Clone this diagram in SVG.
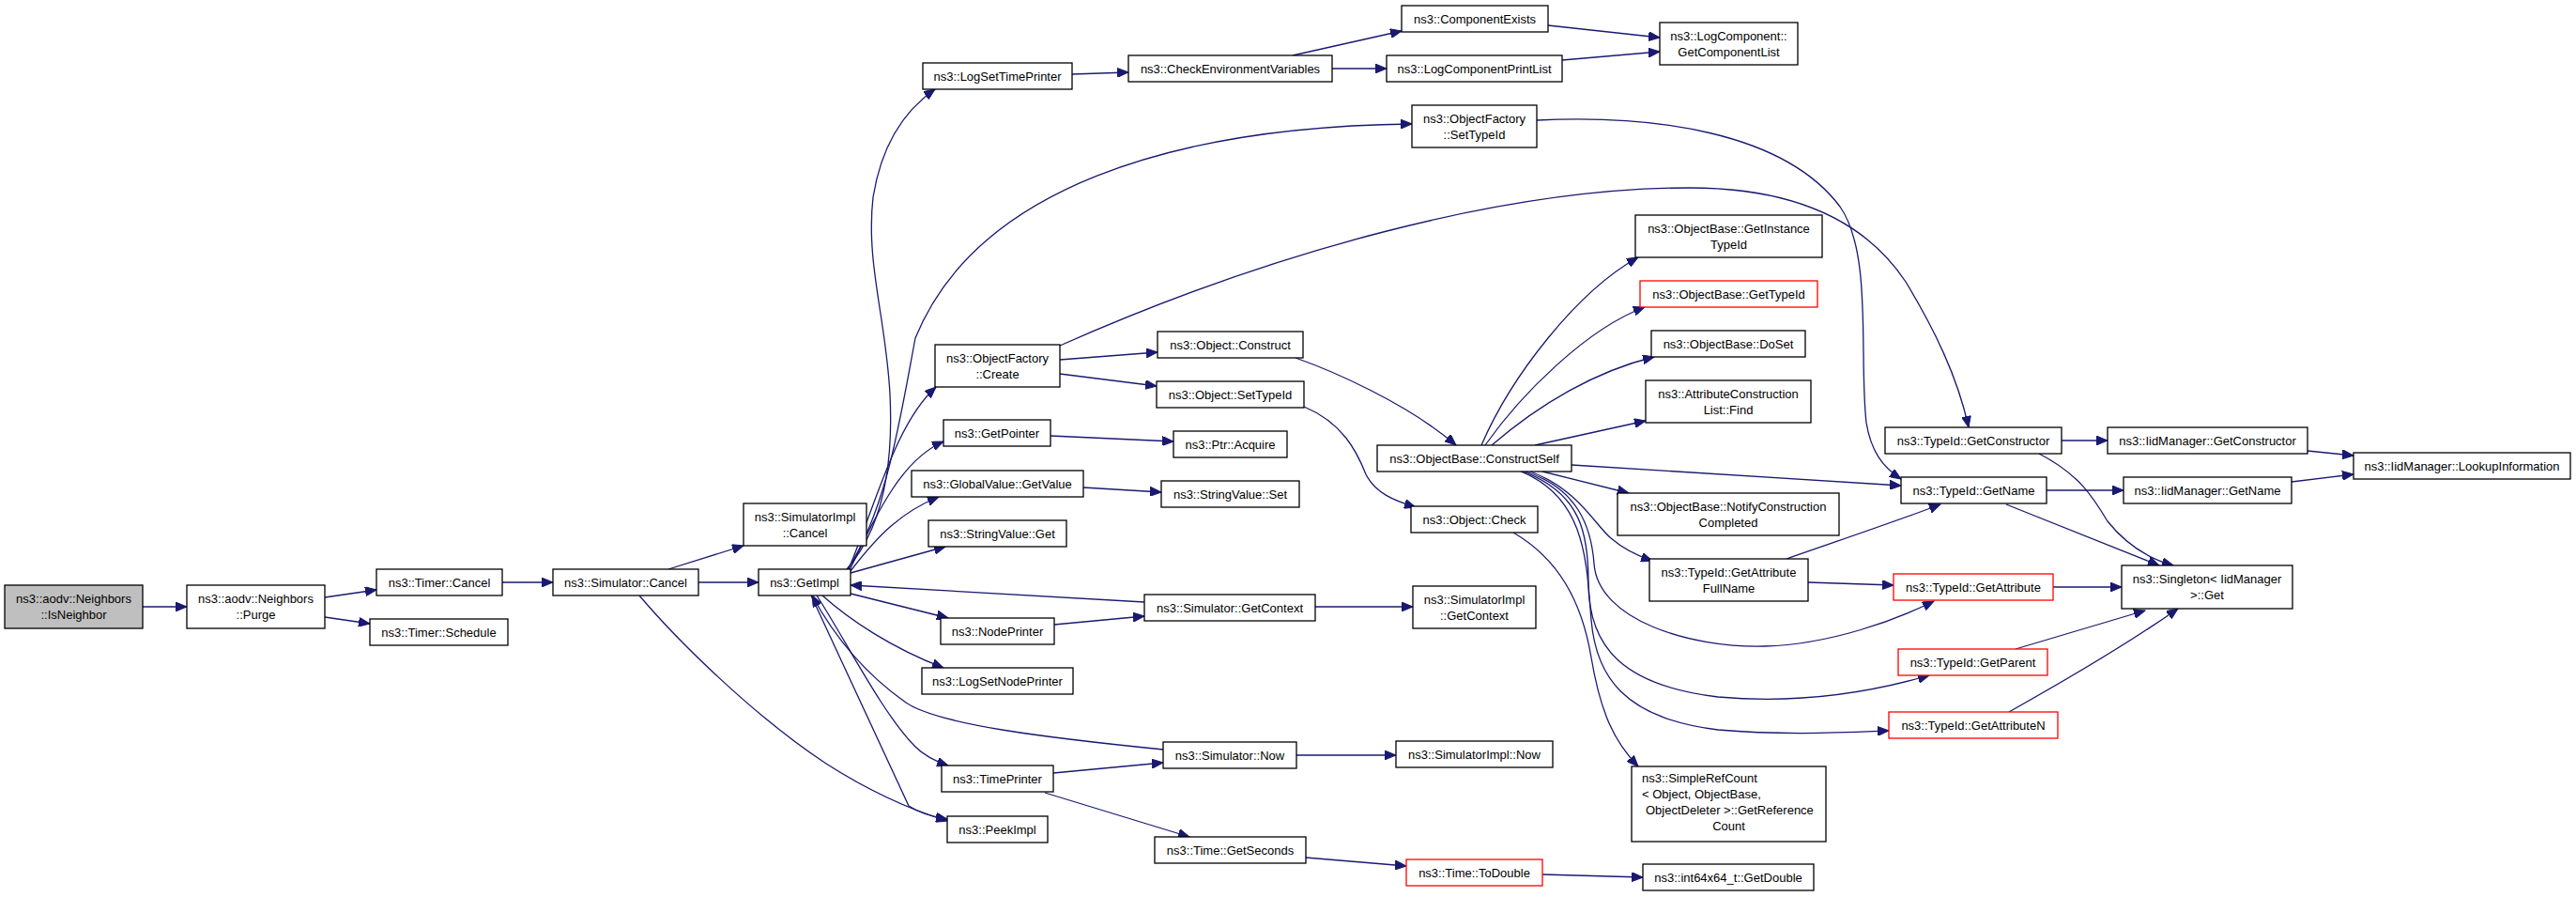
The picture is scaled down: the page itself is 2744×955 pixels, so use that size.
<svg xmlns="http://www.w3.org/2000/svg" width="2744" height="955" viewBox="0 0 2744 955">
<defs>
<marker id="ah" markerUnits="userSpaceOnUse" markerWidth="13" markerHeight="10" refX="12" refY="5" orient="auto">
<path d="M0,0 L12,5 L0,10 z" fill="#191970" stroke="#191970" stroke-width="1"/>
</marker>
<style>
.n rect{fill:#ffffff;stroke:#000000;stroke-width:1.3}
.r rect{fill:#ffffff;stroke:#ff0000;stroke-width:1.3}
.g rect{fill:#bfbfbf;stroke:#000000;stroke-width:1.3}
text{font-family:"Liberation Sans",Arial,sans-serif;font-size:13px;fill:#000000;text-anchor:middle}
text.l{text-anchor:start}
#edges path{fill:none;stroke:#191970;stroke-width:1.3;marker-end:url(#ah)}
</style>
</defs>
<rect x="0" y="0" width="2744" height="955" fill="#ffffff"/>
<g id="edges">
<path d="M152,646 L199,646"/>
<path d="M346,636 L401,628"/>
<path d="M346,657 L394,664"/>
<path d="M535,620 L589,620"/>
<path d="M712,606 L792,581"/>
<path d="M744,620 L808,620"/>
<path d="M681,634 C720,680 800,760 880,813 C930,845 970,862 1009,874"/>
<path d="M864,634 L968,858 C980,866 995,870 1009,872"/>
<path d="M1239,798 C1120,786 1000,772 965,748 C925,720 890,680 865,634"/>
<path d="M870,634 C900,680 940,760 975,795 C985,805 995,810 1010,815"/>
<path d="M876,634 C905,660 950,690 1005,711"/>
<path d="M906,632 L1010,658"/>
<path d="M906,610 L1007,582"/>
<path d="M1219,641 L906,623"/>
<path d="M906,608 C935,570 960,545 1000,529"/>
<path d="M905,607 C935,545 960,490 1005,470"/>
<path d="M904,606 C935,530 955,450 997,412"/>
<path d="M903,606 C945,540 958,450 975,360 C1040,200 1250,135 1504,132"/>
<path d="M902,606 C938,565 952,500 948,420 C944,340 922,280 930,210 C938,160 960,120 996,95"/>
<path d="M1142,79 L1202,77"/>
<path d="M1377,59 L1493,33"/>
<path d="M1419,73 L1477,73"/>
<path d="M1649,27 L1768,40"/>
<path d="M1664,64 L1768,55"/>
<path d="M1637,128 C1760,122 1900,140 1960,220 C1995,270 1980,380 1988,450 C1993,480 2005,497 2025,510"/>
<path d="M1129,368 C1350,270 1600,200 1800,200 C1920,200 1990,240 2030,300 C2060,350 2085,400 2097,455"/>
<path d="M1129,383 L1233,375"/>
<path d="M1129,398 L1232,411"/>
<path d="M1380,381 C1420,395 1500,430 1551,474"/>
<path d="M1389,433 C1430,450 1445,480 1455,505 C1465,525 1485,533 1508,540"/>
<path d="M1119,464 L1250,470"/>
<path d="M1154,519 L1237,524"/>
<path d="M1123,665 L1219,656"/>
<path d="M1401,646 L1505,646"/>
<path d="M1381,804 L1487,804"/>
<path d="M1122,823 L1239,812"/>
<path d="M1113,844 L1267,891"/>
<path d="M1391,913 L1498,922"/>
<path d="M1643,931 L1750,934"/>
<path d="M1578,474 C1610,400 1680,310 1745,274"/>
<path d="M1582,474 C1620,420 1690,350 1752,327"/>
<path d="M1589,474 C1640,430 1700,395 1762,380"/>
<path d="M1635,474 L1753,448"/>
<path d="M1674,495 L2025,517"/>
<path d="M1643,502 L1735,525"/>
<path d="M1630,502 C1680,520 1700,560 1716,573 C1730,585 1745,592 1760,597"/>
<path d="M1625,502 C1680,520 1695,560 1698,600 C1702,660 1800,690 1880,688 C1950,686 2020,660 2060,640"/>
<path d="M1622,502 C1685,525 1692,570 1692,620 C1692,690 1730,730 1830,742 C1920,750 2000,735 2055,719"/>
<path d="M1620,502 C1690,530 1690,600 1695,660 C1700,720 1730,765 1830,777 C1900,783 1960,780 2012,778"/>
<path d="M1612,567 C1660,595 1685,640 1695,700 C1705,760 1720,790 1745,816"/>
<path d="M1903,595 C1960,575 2020,555 2067,537"/>
<path d="M1926,620 L2017,623"/>
<path d="M2196,469 L2245,469"/>
<path d="M2172,483 C2215,505 2230,530 2245,555 C2265,580 2290,595 2315,602"/>
<path d="M2458,480 L2507,485"/>
<path d="M2180,522 L2262,522"/>
<path d="M2441,513 L2507,505"/>
<path d="M2137,537 L2300,602"/>
<path d="M2187,625 L2260,625"/>
<path d="M2147,691 L2285,650"/>
<path d="M2140,758 C2190,730 2260,690 2320,648"/>
</g>
<g id="n_isneighbor" class="g"><rect x="5" y="623" width="147" height="46"/><text x="78.5" y="642">ns3::aodv::Neighbors</text><text x="78.5" y="659">::IsNeighbor</text></g>
<g id="n_purge" class="n"><rect x="199" y="623" width="147" height="46"/><text x="272.5" y="642">ns3::aodv::Neighbors</text><text x="272.5" y="659">::Purge</text></g>
<g id="n_timer_cancel" class="n"><rect x="401" y="606" width="134" height="28"/><text x="468" y="624.5">ns3::Timer::Cancel</text></g>
<g id="n_timer_schedule" class="n"><rect x="394" y="659" width="147" height="28"/><text x="467.5" y="677.5">ns3::Timer::Schedule</text></g>
<g id="n_sim_cancel" class="n"><rect x="589" y="606" width="155" height="28"/><text x="666.5" y="624.5">ns3::Simulator::Cancel</text></g>
<g id="n_simimpl_cancel" class="n"><rect x="792" y="536" width="131" height="45"/><text x="857.5" y="554.5">ns3::SimulatorImpl</text><text x="857.5" y="571.5">::Cancel</text></g>
<g id="n_getimpl" class="n"><rect x="808" y="606" width="98" height="28"/><text x="857" y="624.5">ns3::GetImpl</text></g>
<g id="n_logsettimeprinter" class="n"><rect x="983" y="67" width="159" height="28"/><text x="1062.5" y="85.5">ns3::LogSetTimePrinter</text></g>
<g id="n_checkenv" class="n"><rect x="1202" y="59" width="217" height="28"/><text x="1310.5" y="77.5">ns3::CheckEnvironmentVariables</text></g>
<g id="n_compexists" class="n"><rect x="1493" y="6" width="156" height="28"/><text x="1571" y="24.5">ns3::ComponentExists</text></g>
<g id="n_logcompprintlist" class="n"><rect x="1477" y="59" width="187" height="28"/><text x="1570.5" y="77.5">ns3::LogComponentPrintList</text></g>
<g id="n_getcomplist" class="n"><rect x="1768" y="24" width="147" height="45"/><text x="1841.5" y="42.5">ns3::LogComponent::</text><text x="1841.5" y="59.5">GetComponentList</text></g>
<g id="n_of_settypeid" class="n"><rect x="1504" y="112" width="133" height="45"/><text x="1570.5" y="130.5">ns3::ObjectFactory</text><text x="1570.5" y="147.5">::SetTypeId</text></g>
<g id="n_of_create" class="n"><rect x="996" y="367" width="133" height="45"/><text x="1062.5" y="385.5">ns3::ObjectFactory</text><text x="1062.5" y="402.5">::Create</text></g>
<g id="n_obj_construct" class="n"><rect x="1233" y="353" width="155" height="28"/><text x="1310.5" y="371.5">ns3::Object::Construct</text></g>
<g id="n_obj_settypeid" class="n"><rect x="1232" y="406" width="157" height="28"/><text x="1310.5" y="424.5">ns3::Object::SetTypeId</text></g>
<g id="n_getpointer" class="n"><rect x="1005" y="447" width="114" height="28"/><text x="1062" y="465.5">ns3::GetPointer</text></g>
<g id="n_ptr_acquire" class="n"><rect x="1250" y="459" width="121" height="28"/><text x="1310.5" y="477.5">ns3::Ptr::Acquire</text></g>
<g id="n_gv_getvalue" class="n"><rect x="971" y="501" width="183" height="28"/><text x="1062.5" y="519.5">ns3::GlobalValue::GetValue</text></g>
<g id="n_sv_set" class="n"><rect x="1237" y="512" width="147" height="28"/><text x="1310.5" y="530.5">ns3::StringValue::Set</text></g>
<g id="n_sv_get" class="n"><rect x="989" y="554" width="147" height="28"/><text x="1062.5" y="572.5">ns3::StringValue::Get</text></g>
<g id="n_sim_getcontext" class="n"><rect x="1219" y="633" width="182" height="28"/><text x="1310" y="651.5">ns3::Simulator::GetContext</text></g>
<g id="n_nodeprinter" class="n"><rect x="1002" y="658" width="121" height="28"/><text x="1062.5" y="676.5">ns3::NodePrinter</text></g>
<g id="n_logsetnodeprinter" class="n"><rect x="982" y="711" width="161" height="28"/><text x="1062.5" y="729.5">ns3::LogSetNodePrinter</text></g>
<g id="n_sim_now" class="n"><rect x="1239" y="790" width="142" height="28"/><text x="1310" y="808.5">ns3::Simulator::Now</text></g>
<g id="n_timeprinter" class="n"><rect x="1003" y="815" width="119" height="28"/><text x="1062.5" y="833.5">ns3::TimePrinter</text></g>
<g id="n_peekimpl" class="n"><rect x="1009" y="869" width="107" height="28"/><text x="1062.5" y="887.5">ns3::PeekImpl</text></g>
<g id="n_time_getseconds" class="n"><rect x="1230" y="891" width="161" height="28"/><text x="1310.5" y="909.5">ns3::Time::GetSeconds</text></g>
<g id="n_getinstancetypeid" class="n"><rect x="1742" y="229" width="199" height="45"/><text x="1841.5" y="247.5">ns3::ObjectBase::GetInstance</text><text x="1841.5" y="264.5">TypeId</text></g>
<g id="n_ob_gettypeid" class="r"><rect x="1747" y="299" width="189" height="28"/><text x="1841.5" y="317.5">ns3::ObjectBase::GetTypeId</text></g>
<g id="n_ob_doset" class="n"><rect x="1759" y="352" width="164" height="28"/><text x="1841" y="370.5">ns3::ObjectBase::DoSet</text></g>
<g id="n_acl_find" class="n"><rect x="1753" y="405" width="176" height="45"/><text x="1841" y="423.5">ns3::AttributeConstruction</text><text x="1841" y="440.5">List::Find</text></g>
<g id="n_constructself" class="n"><rect x="1467" y="474" width="207" height="28"/><text x="1570.5" y="492.5">ns3::ObjectBase::ConstructSelf</text></g>
<g id="n_notify" class="n"><rect x="1723" y="525" width="236" height="45"/><text x="1841" y="543.5">ns3::ObjectBase::NotifyConstruction</text><text x="1841" y="560.5">Completed</text></g>
<g id="n_obj_check" class="n"><rect x="1503" y="539" width="135" height="28"/><text x="1570.5" y="557.5">ns3::Object::Check</text></g>
<g id="n_getattrfullname" class="n"><rect x="1757" y="595" width="169" height="45"/><text x="1841.5" y="613.5">ns3::TypeId::GetAttribute</text><text x="1841.5" y="630.5">FullName</text></g>
<g id="n_simimpl_getcontext" class="n"><rect x="1505" y="624" width="131" height="45"/><text x="1570.5" y="642.5">ns3::SimulatorImpl</text><text x="1570.5" y="659.5">::GetContext</text></g>
<g id="n_simimpl_now" class="n"><rect x="1487" y="789" width="167" height="28"/><text x="1570.5" y="807.5">ns3::SimulatorImpl::Now</text></g>
<g id="n_simplerefcount" class="n"><rect x="1738" y="816" width="207" height="80"/><text class="l" x="1749" y="833">ns3::SimpleRefCount</text><text class="l" x="1749" y="850">&lt; Object, ObjectBase,</text><text class="l" x="1753" y="867">ObjectDeleter &gt;::GetReference</text><text x="1841.5" y="884">Count</text></g>
<g id="n_time_todouble" class="r"><rect x="1498" y="915" width="145" height="28"/><text x="1570.5" y="933.5">ns3::Time::ToDouble</text></g>
<g id="n_getdouble" class="n"><rect x="1750" y="920" width="182" height="28"/><text x="1841" y="938.5">ns3::int64x64_t::GetDouble</text></g>
<g id="n_tid_getconstructor" class="n"><rect x="2008" y="455" width="188" height="28"/><text x="2102" y="473.5">ns3::TypeId::GetConstructor</text></g>
<g id="n_iid_getconstructor" class="n"><rect x="2245" y="455" width="213" height="28"/><text x="2351.5" y="473.5">ns3::IidManager::GetConstructor</text></g>
<g id="n_iid_lookup" class="n"><rect x="2507" y="482" width="231" height="28"/><text x="2622.5" y="500.5">ns3::IidManager::LookupInformation</text></g>
<g id="n_tid_getname" class="n"><rect x="2025" y="508" width="155" height="28"/><text x="2102.5" y="526.5">ns3::TypeId::GetName</text></g>
<g id="n_iid_getname" class="n"><rect x="2262" y="508" width="179" height="28"/><text x="2351.5" y="526.5">ns3::IidManager::GetName</text></g>
<g id="n_singleton" class="n"><rect x="2260" y="602" width="182" height="46"/><text x="2351" y="621">ns3::Singleton&lt; IidManager</text><text x="2351" y="638">&gt;::Get</text></g>
<g id="n_tid_getattribute" class="r"><rect x="2017" y="611" width="170" height="28"/><text x="2102" y="629.5">ns3::TypeId::GetAttribute</text></g>
<g id="n_tid_getparent" class="r"><rect x="2022" y="691" width="159" height="28"/><text x="2101.5" y="709.5">ns3::TypeId::GetParent</text></g>
<g id="n_tid_getattributen" class="r"><rect x="2012" y="758" width="180" height="28"/><text x="2102" y="776.5">ns3::TypeId::GetAttributeN</text></g>
</svg>
